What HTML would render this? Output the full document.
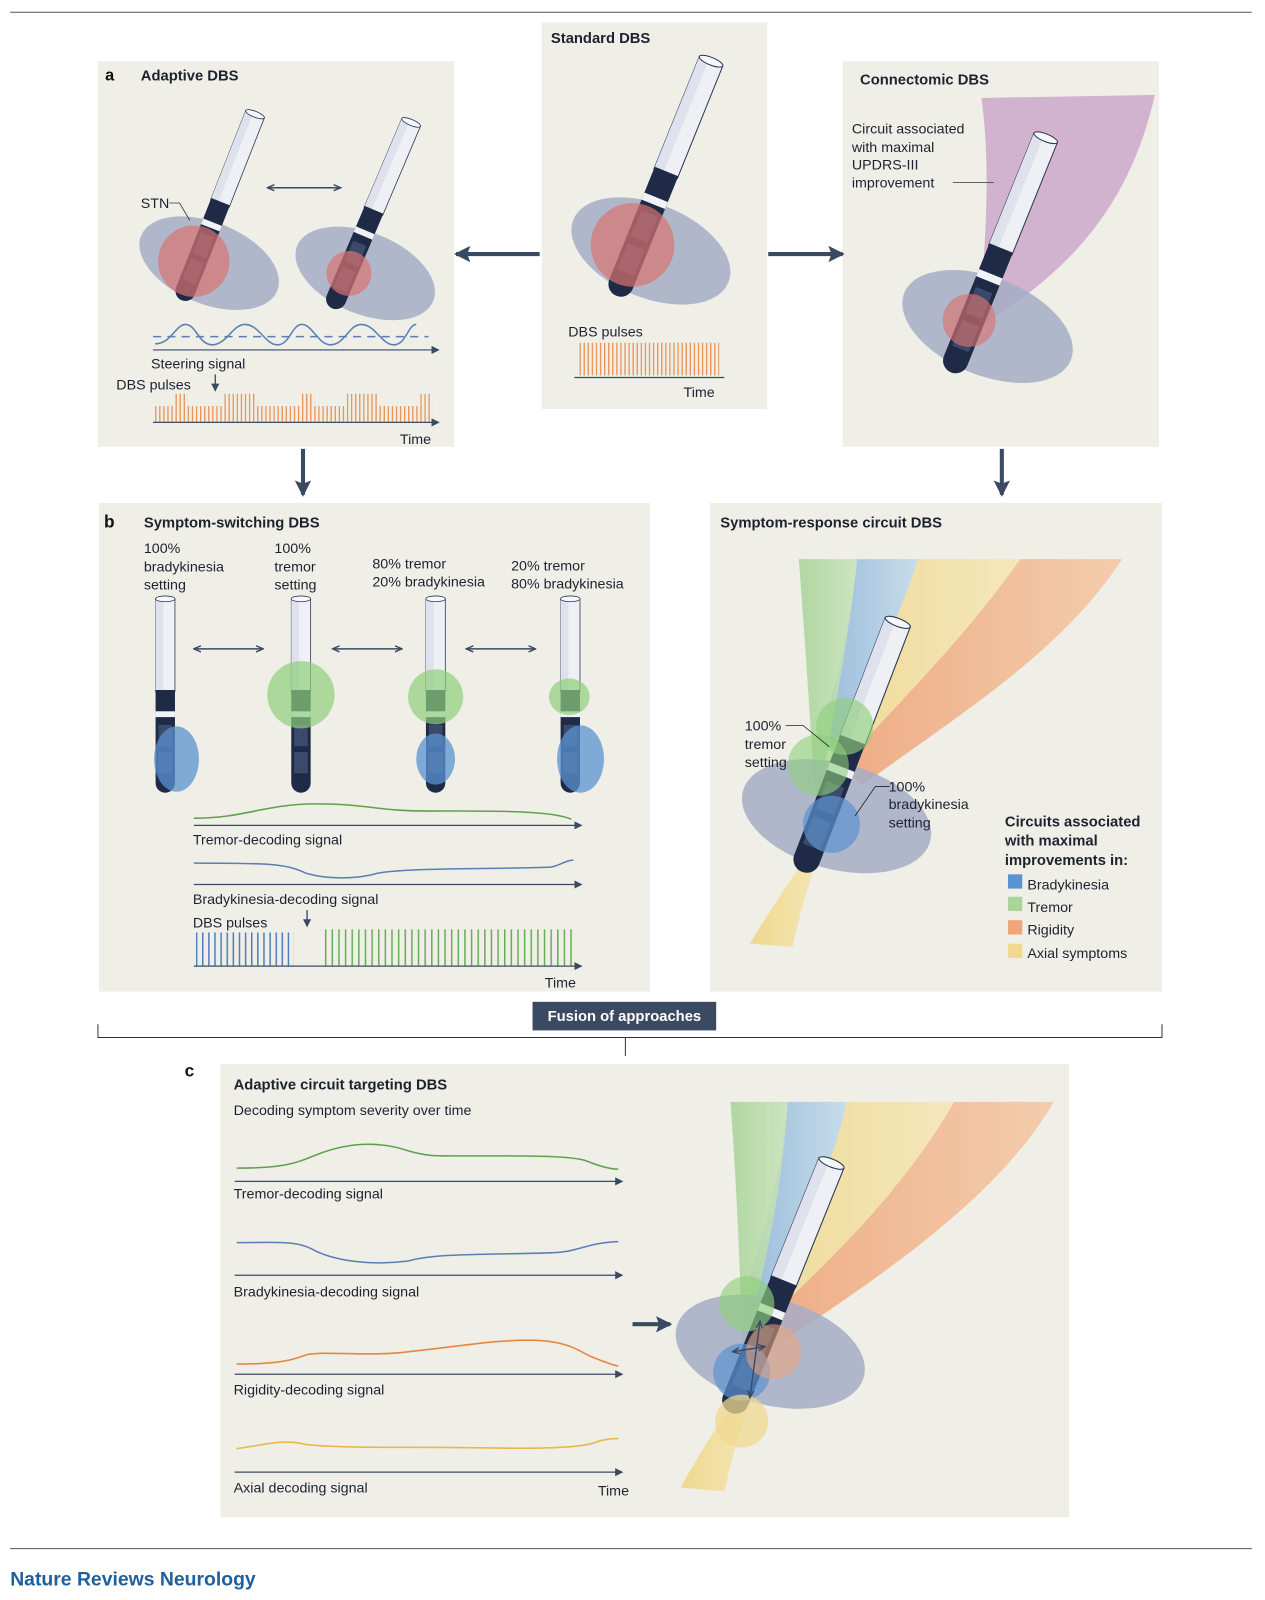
<!DOCTYPE html>
<html><head><meta charset="utf-8"><style>
html,body{margin:0;padding:0;background:#fff;}
svg{display:block;font-family:"Liberation Sans",sans-serif;}
.t{font-size:14px;fill:#1d2230}
.b{font-size:14.5px;font-weight:bold;fill:#1d2230}
</style></head><body>
<svg width="1265" height="1600" viewBox="0 0 1265 1600" xmlns="http://www.w3.org/2000/svg">
<defs>
<g id="el">
  <rect x="-10" y="0" width="20" height="96" fill="#eef0f6" stroke="#2a3550" stroke-width="0.8"/>
  <rect x="-10" y="0" width="8" height="96" fill="#dfe2ec"/>
  <ellipse cx="0" cy="0" rx="10" ry="3" fill="#f6f7fb" stroke="#2a3550" stroke-width="0.8"/>
  <path d="M-10 94 H10 V190 A10 10 0 0 1 -10 190 Z" fill="#1f2a47"/>
  <rect x="-10" y="116" width="20" height="6" fill="#f0f2f7"/>
  <rect x="-7" y="130" width="14" height="22" fill="#3b4a6a"/>
  <rect x="-7" y="158" width="14" height="22" fill="#3b4a6a"/>
</g>
<pattern id="po" width="4" height="40" patternUnits="userSpaceOnUse"><rect x="0" y="0" width="1.3" height="40" fill="#e8955a"/></pattern>
<pattern id="pb" width="6" height="40" patternUnits="userSpaceOnUse"><rect x="0" y="0" width="1.5" height="40" fill="#4f7fc0"/></pattern>
<pattern id="pg" width="6.5" height="40" patternUnits="userSpaceOnUse"><rect x="0" y="0" width="1.5" height="40" fill="#6aac5a"/></pattern>
<marker id="ah" markerWidth="8" markerHeight="8" refX="7" refY="4" orient="auto" markerUnits="userSpaceOnUse"><path d="M0 0 L8 4 L0 8 Z" fill="#3b4a63"/></marker>
<marker id="as" markerWidth="8" markerHeight="8" refX="7" refY="4" orient="auto-start-reverse" markerUnits="userSpaceOnUse"><path d="M0 1 L7 4 L0 7" fill="none" stroke="#3b4a63" stroke-width="1.4"/></marker>
<marker id="big" markerWidth="18" markerHeight="18" refX="14" refY="9" orient="auto" markerUnits="userSpaceOnUse"><path d="M0 1 L16 9 L0 17 L3 9 Z" fill="#3b4a63"/></marker>
<linearGradient id="gG" x1="0" x2="1"><stop offset="0" stop-color="#a9d49a"/><stop offset="1" stop-color="#c9e3bc"/></linearGradient>
<linearGradient id="gB" x1="0" x2="1"><stop offset="0" stop-color="#93b8dc"/><stop offset="1" stop-color="#c2dae9"/></linearGradient>
<linearGradient id="gY" x1="0" x2="1"><stop offset="0" stop-color="#efd88f"/><stop offset="1" stop-color="#f4e6b6"/></linearGradient>
<linearGradient id="gO" x1="0" x2="1"><stop offset="0" stop-color="#eea57a"/><stop offset="1" stop-color="#f4c9a6"/></linearGradient>
</defs>
<g transform="scale(1.0202)">
<line x1="10" y1="12" x2="1227" y2="12" stroke="#555" stroke-width="1"/>

<!-- Panel a -->
<rect x="96" y="60" width="349" height="378" fill="#f0efe7"/>
<text x="103" y="79" style="font-size:16px;font-weight:bold;fill:#111">a</text>
<text x="138" y="79" class="b">Adaptive DBS</text>
<ellipse cx="205" cy="258" rx="72" ry="40" transform="rotate(22 205 258)" fill="#a6adc6" opacity="0.85"/>
<ellipse cx="358" cy="268" rx="72" ry="40" transform="rotate(22 358 268)" fill="#a6adc6" opacity="0.85"/>
<g transform="translate(250,112) rotate(21.5) scale(0.98)"><use href="#el"/></g>
<g transform="translate(403,120) rotate(23) scale(0.99)"><use href="#el"/></g>
<circle cx="190" cy="256" r="35" fill="#d9736f" opacity="0.7"/>
<circle cx="342" cy="268" r="22" fill="#d9736f" opacity="0.7"/>
<text x="138" y="204" class="t">STN</text>
<path d="M166 199 H176 L186 216" fill="none" stroke="#333" stroke-width="0.8"/>
<line x1="262" y1="184" x2="334" y2="184" stroke="#3b4a63" stroke-width="1.5" marker-start="url(#as)" marker-end="url(#as)"/>
<line x1="150" y1="330" x2="420" y2="330" stroke="#5b7fb5" stroke-width="1.5" stroke-dasharray="8 6"/>
<path d="M152 337 C168 337 172 318 182 318 C192 318 195 338 208 338 C222 338 228 318 240 318 C254 318 260 338 272 338 C284 338 286 318 296 318 C306 318 312 338 324 338 C338 338 342 318 354 318 C368 318 374 338 386 338 C398 338 400 318 408 318" fill="none" stroke="#5b7fb5" stroke-width="1.5"/>
<line x1="150" y1="343" x2="430" y2="343" stroke="#3b4a63" stroke-width="1.2" marker-end="url(#ah)"/>
<text x="148" y="361" class="t">Steering signal</text>
<text x="114" y="382" class="t">DBS pulses</text>
<line x1="211" y1="367" x2="211" y2="383" stroke="#3b4a63" stroke-width="1.3" marker-end="url(#ah)"/>
<rect x="152" y="398" width="272" height="16" fill="url(#po)"/>
<rect x="172" y="386" width="12" height="12" fill="url(#po)"/>
<rect x="220" y="386" width="32" height="12" fill="url(#po)"/>
<rect x="296" y="386" width="12" height="12" fill="url(#po)"/>
<rect x="340" y="386" width="32" height="12" fill="url(#po)"/>
<rect x="412" y="386" width="12" height="12" fill="url(#po)"/>
<line x1="150" y1="414" x2="430" y2="414" stroke="#3b4a63" stroke-width="1.2" marker-end="url(#ah)"/>
<text x="392" y="435" class="t">Time</text>

<!-- Standard -->
<rect x="531" y="22" width="221" height="379" fill="#f0efe7"/>
<text x="540" y="42" class="b">Standard DBS</text>
<ellipse cx="638" cy="246" rx="82" ry="46" transform="rotate(22 638 246)" fill="#a6adc6" opacity="0.85"/>
<g transform="translate(697,60) rotate(22) scale(1.24)"><use href="#el"/></g>
<circle cx="620" cy="240" r="41" fill="#d9736f" opacity="0.7"/>
<text x="557" y="330" class="t">DBS pulses</text>
<rect x="567" y="336" width="138" height="32" fill="url(#po)"/>
<line x1="563" y1="370" x2="710" y2="370" stroke="#3b4a63" stroke-width="1.2"/>
<text x="670" y="389" class="t">Time</text>

<!-- Connectomic -->
<rect x="826" y="60" width="310" height="378" fill="#f0efe7"/>
<text x="843" y="83" class="b">Connectomic DBS</text>
<path d="M962 96 L1132 93 C1110 190 1060 260 960 320 C965 240 972 170 962 96 Z" fill="#c79ec7" opacity="0.75"/>
<ellipse cx="968" cy="320" rx="88" ry="48" transform="rotate(22 968 320)" fill="#a6adc6" opacity="0.85"/>
<g transform="translate(1025,135) rotate(22) scale(1.24)"><use href="#el"/></g>
<circle cx="950" cy="314" r="26" fill="#d9736f" opacity="0.65"/>
<text x="835" y="131" class="t">Circuit associated</text>
<text x="835" y="149" class="t">with maximal</text>
<text x="835" y="166" class="t">UPDRS-III</text>
<text x="835" y="184" class="t">improvement</text>
<line x1="934" y1="179" x2="974" y2="179" stroke="#333" stroke-width="0.8"/>

<!-- big arrows -->
<line x1="529" y1="249" x2="447" y2="249" stroke="#3b4a63" stroke-width="4" marker-end="url(#big)"/>
<line x1="753" y1="249" x2="826" y2="249" stroke="#3b4a63" stroke-width="4" marker-end="url(#big)"/>
<line x1="297" y1="440" x2="297" y2="485" stroke="#3b4a63" stroke-width="4" marker-end="url(#big)"/>
<line x1="982" y1="440" x2="982" y2="485" stroke="#3b4a63" stroke-width="4" marker-end="url(#big)"/>

<!-- Panel b -->
<rect x="97" y="493" width="540" height="479" fill="#f0efe7"/>
<text x="102" y="517" style="font-size:17px;font-weight:bold;fill:#111">b</text>
<text x="141" y="517" class="b">Symptom-switching DBS</text>
<text x="141" y="542" class="t">100%</text><text x="141" y="560" class="t">bradykinesia</text><text x="141" y="578" class="t">setting</text>
<text x="269" y="542" class="t">100%</text><text x="269" y="560" class="t">tremor</text><text x="269" y="578" class="t">setting</text>
<text x="365" y="557" class="t">80% tremor</text><text x="365" y="575" class="t">20% bradykinesia</text>
<text x="501" y="559" class="t">20% tremor</text><text x="501" y="577" class="t">80% bradykinesia</text>
<g transform="translate(162,587) scale(0.95)"><use href="#el"/></g>
<g transform="translate(295,587) scale(0.95)"><use href="#el"/></g>
<g transform="translate(427,587) scale(0.95)"><use href="#el"/></g>
<g transform="translate(559,587) scale(0.95)"><use href="#el"/></g>
<ellipse cx="173" cy="744" rx="22" ry="32" fill="#5b93d0" opacity="0.75"/>
<circle cx="295" cy="681" r="33" fill="#8fcf7c" opacity="0.7"/>
<circle cx="427" cy="683" r="27" fill="#8fcf7c" opacity="0.7"/>
<ellipse cx="427" cy="744" rx="19" ry="25" fill="#5b93d0" opacity="0.75"/>
<ellipse cx="558" cy="683" rx="20" ry="18" fill="#8fcf7c" opacity="0.7"/>
<ellipse cx="569" cy="744" rx="23" ry="33" fill="#5b93d0" opacity="0.75"/>
<line x1="190" y1="636" x2="258" y2="636" stroke="#3b4a63" stroke-width="1.5" marker-start="url(#as)" marker-end="url(#as)"/>
<line x1="326" y1="636" x2="394" y2="636" stroke="#3b4a63" stroke-width="1.5" marker-start="url(#as)" marker-end="url(#as)"/>
<line x1="457" y1="636" x2="525" y2="636" stroke="#3b4a63" stroke-width="1.5" marker-start="url(#as)" marker-end="url(#as)"/>
<path d="M190 802 C240 802 260 788 310 788 C360 788 370 795 420 795 C480 795 540 794 560 803" fill="none" stroke="#5fa04f" stroke-width="1.5"/>
<line x1="190" y1="809" x2="570" y2="809" stroke="#3b4a63" stroke-width="1.2" marker-end="url(#ah)"/>
<text x="189" y="828" class="t">Tremor-decoding signal</text>
<path d="M190 846 C260 846 280 846 300 856 C320 862 350 862 370 856 C400 850 500 852 540 850 C550 848 555 843 562 843" fill="none" stroke="#5b7fb5" stroke-width="1.5"/>
<line x1="190" y1="867" x2="570" y2="867" stroke="#3b4a63" stroke-width="1.2" marker-end="url(#ah)"/>
<text x="189" y="886" class="t">Bradykinesia-decoding signal</text>
<text x="189" y="909" class="t">DBS pulses</text>
<line x1="301" y1="892" x2="301" y2="908" stroke="#3b4a63" stroke-width="1.3" marker-end="url(#ah)"/>
<rect x="192" y="914" width="96" height="33" fill="url(#pb)"/>
<rect x="318" y="911" width="245" height="36" fill="url(#pg)"/>
<line x1="190" y1="947" x2="570" y2="947" stroke="#3b4a63" stroke-width="1.2" marker-end="url(#ah)"/>
<text x="534" y="968" class="t">Time</text>

<!-- Symptom-response -->
<rect x="696" y="493" width="443" height="479" fill="#f0efe7"/>
<text x="706" y="517" class="b">Symptom-response circuit DBS</text>
<path d="M1000 548 L1100 548 C1040 640 940 700 845 770 L825 750 C880 690 950 620 1000 548 Z" fill="url(#gO)" opacity="0.9"/>
<path d="M900 548 L1000 548 C950 620 880 690 825 750 L815 730 C850 670 880 610 900 548 Z" fill="url(#gY)" opacity="0.9"/>
<path d="M840 548 L900 548 C880 610 850 670 815 735 L810 700 C825 650 835 600 840 548 Z" fill="url(#gB)" opacity="0.9"/>
<path d="M783 548 L840 548 C835 600 825 660 805 770 L800 800 C795 720 790 640 783 548 Z" fill="url(#gG)" opacity="0.9"/>
<path d="M735 925 L777 928 C785 890 795 860 803 838 L790 840 C770 870 750 900 735 925 Z" fill="url(#gY)"/>
<ellipse cx="820" cy="800" rx="95" ry="52" transform="rotate(15 820 800)" fill="#a6adc6" opacity="0.85"/>
<g transform="translate(880,610) rotate(21) scale(1.31)"><use href="#el"/></g>
<circle cx="828" cy="712" r="28" fill="#8fcf7c" opacity="0.65"/>
<circle cx="802" cy="750" r="30" fill="#8fcf7c" opacity="0.6"/>
<circle cx="815" cy="808" r="28" fill="#5b93d0" opacity="0.7"/>
<text x="730" y="716" class="t">100%</text><text x="730" y="734" class="t">tremor</text><text x="730" y="752" class="t">setting</text>
<path d="M770 711 H787 L813 732" fill="none" stroke="#222" stroke-width="0.8"/>
<text x="871" y="776" class="t">100%</text><text x="871" y="793" class="t">bradykinesia</text><text x="871" y="811" class="t">setting</text>
<path d="M872 771 H858 L838 800" fill="none" stroke="#222" stroke-width="0.8"/>
<text x="985" y="810" class="b">Circuits associated</text>
<text x="985" y="829" class="b">with maximal</text>
<text x="985" y="848" class="b">improvements in:</text>
<rect x="988" y="857" width="14" height="14" fill="#5b93d0"/><text x="1007" y="872" class="t">Bradykinesia</text>
<rect x="988" y="879" width="14" height="14" fill="#a9d49a"/><text x="1007" y="894" class="t">Tremor</text>
<rect x="988" y="902" width="14" height="14" fill="#eea57a"/><text x="1007" y="916" class="t">Rigidity</text>
<rect x="988" y="925" width="14" height="14" fill="#efd88f"/><text x="1007" y="939" class="t">Axial symptoms</text>

<!-- Fusion -->
<rect x="522" y="982" width="180" height="28" fill="#3b4a63"/>
<text x="612" y="1001" text-anchor="middle" style="font-size:14.5px;font-weight:bold;fill:#fff">Fusion of approaches</text>
<path d="M96 1004 V1017 H1139 V1004" fill="none" stroke="#333" stroke-width="1"/>
<line x1="613" y1="1017" x2="613" y2="1035" stroke="#333" stroke-width="1"/>

<!-- Panel c -->
<text x="181" y="1055" style="font-size:17px;font-weight:bold;fill:#111">c</text>
<rect x="216" y="1043" width="832" height="444" fill="#f0efe7"/>
<text x="229" y="1068" class="b">Adaptive circuit targeting DBS</text>
<text x="229" y="1093" class="t">Decoding symptom severity over time</text>
<path d="M232 1145 C280 1145 290 1140 310 1132 C340 1120 370 1118 400 1128 C420 1134 430 1133 450 1133 C500 1133 560 1132 575 1138 C590 1144 600 1146 606 1146" fill="none" stroke="#5fa04f" stroke-width="1.5"/>
<line x1="230" y1="1158" x2="610" y2="1158" stroke="#3b4a63" stroke-width="1.2" marker-end="url(#ah)"/>
<text x="229" y="1175" class="t">Tremor-decoding signal</text>
<path d="M232 1218 C270 1218 290 1216 305 1224 C330 1238 370 1240 400 1236 C430 1228 480 1230 540 1228 C565 1228 575 1218 606 1217" fill="none" stroke="#5b7fb5" stroke-width="1.5"/>
<line x1="230" y1="1250" x2="610" y2="1250" stroke="#3b4a63" stroke-width="1.2" marker-end="url(#ah)"/>
<text x="229" y="1271" class="t">Bradykinesia-decoding signal</text>
<path d="M232 1337 C260 1337 280 1336 300 1328 C320 1324 360 1330 400 1325 C450 1320 490 1312 530 1314 C560 1316 570 1326 580 1330 C590 1334 600 1338 606 1339" fill="none" stroke="#e8863f" stroke-width="1.6"/>
<line x1="230" y1="1347" x2="610" y2="1347" stroke="#3b4a63" stroke-width="1.2" marker-end="url(#ah)"/>
<text x="229" y="1367" class="t">Rigidity-decoding signal</text>
<path d="M232 1420 C260 1416 280 1410 300 1416 C340 1420 400 1418 460 1419 C520 1420 560 1420 580 1415 C590 1411 600 1410 606 1410" fill="none" stroke="#e8b84a" stroke-width="1.6"/>
<line x1="230" y1="1443" x2="610" y2="1443" stroke="#3b4a63" stroke-width="1.2" marker-end="url(#ah)"/>
<text x="229" y="1463" class="t">Axial decoding signal</text>
<text x="586" y="1466" class="t">Time</text>
<line x1="620" y1="1298" x2="657" y2="1298" stroke="#3b4a63" stroke-width="4" marker-end="url(#big)"/>
<path d="M935 1080 L1033 1080 C980 1170 880 1240 760 1320 L745 1300 C820 1230 890 1160 935 1080 Z" fill="url(#gO)" opacity="0.9"/>
<path d="M830 1080 L935 1080 C890 1160 820 1230 745 1300 L740 1280 C780 1220 815 1150 830 1080 Z" fill="url(#gY)" opacity="0.9"/>
<path d="M772 1080 L830 1080 C815 1150 780 1220 740 1285 L735 1250 C755 1190 768 1130 772 1080 Z" fill="url(#gB)" opacity="0.9"/>
<path d="M716 1080 L772 1080 C768 1150 755 1220 735 1300 L728 1320 C725 1240 722 1160 716 1080 Z" fill="url(#gG)" opacity="0.9"/>
<path d="M667 1458 L710 1462 C720 1420 728 1390 735 1370 L722 1372 C700 1400 683 1430 667 1458 Z" fill="url(#gY)"/>
<ellipse cx="755" cy="1325" rx="95" ry="52" transform="rotate(15 755 1325)" fill="#a6adc6" opacity="0.85"/>
<g transform="translate(815,1140) rotate(22) scale(1.32)"><use href="#el"/></g>
<circle cx="732" cy="1278" r="27" fill="#8fcf7c" opacity="0.65"/>
<circle cx="727" cy="1345" r="28" fill="#5b93d0" opacity="0.7"/>
<circle cx="758" cy="1325" r="27" fill="#eea57a" opacity="0.55"/>
<circle cx="727" cy="1393" r="26" fill="#efd88f" opacity="0.75"/>
<line x1="718" y1="1325" x2="750" y2="1320" stroke="#3b4a63" stroke-width="1.4" marker-start="url(#as)" marker-end="url(#as)"/>
<line x1="745" y1="1295" x2="735" y2="1370" stroke="#3b4a63" stroke-width="1.4" marker-start="url(#as)" marker-end="url(#as)"/>

<line x1="10" y1="1518" x2="1227" y2="1518" stroke="#555" stroke-width="1"/>
<text x="10" y="1554" style="font-size:19px;font-weight:bold;fill:#1f5fa0">Nature Reviews Neurology</text>
</g>
</svg>
</body></html>
